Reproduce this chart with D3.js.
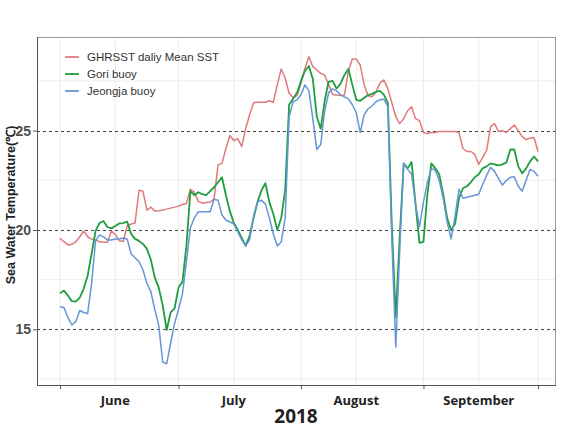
<!DOCTYPE html>
<html><head><meta charset="utf-8">
<script src="https://cdn.jsdelivr.net/npm/d3@7"></script>
<style>body{margin:0;background:#fff}svg{display:block}</style>
</head><body>
<script>
// ---- data ----
const startDate = "2018-06-01";
const endDate = "2018-09-30";
const seriesNames = ["GHRSST daliy Mean SST", "Gori buoy", "Jeongja buoy"];
const ghrsst = [
19.58,19.41,19.25,19.28,19.41,19.66,19.95,19.66,19.54,19.5,
19.41,19.38,19.38,19.95,19.78,19.46,19.42,20.2,20.3,20.35,
22.0,21.95,21.0,21.15,20.95,20.97,21.0,21.05,21.1,21.15,
21.2,21.28,21.33,22.05,21.9,21.45,21.35,21.38,21.4,21.55,
23.27,23.35,24.1,24.75,24.5,24.6,24.2,25.1,25.8,26.4,
26.43,26.43,26.43,26.5,26.43,27.3,28.1,27.65,26.88,26.66,
26.76,27.38,28.14,28.72,28.22,28.05,27.88,27.8,27.3,26.82,
26.79,26.76,26.79,28.0,28.6,28.6,28.3,27.3,26.75,26.7,
26.95,27.4,27.55,27.1,26.4,25.7,25.35,25.6,26.0,26.2,
25.6,25.5,24.9,24.85,24.9,24.9,24.95,24.95,24.95,24.95,
24.95,24.9,24.1,23.95,23.95,23.8,23.3,23.65,24.0,25.2,
25.35,24.95,25.0,24.9,25.1,25.28,25.0,24.7,24.55,24.62,
24.65,23.95];
const gori = [
16.81,16.95,16.7,16.42,16.4,16.6,17.05,17.7,18.8,19.95,
20.35,20.45,20.15,20.08,20.2,20.33,20.35,20.42,19.8,19.55,
19.45,19.3,19.05,18.5,17.6,17.1,16.2,14.97,15.85,16.05,
17.1,17.4,19.2,21.95,21.75,21.9,21.8,21.75,21.95,22.15,
22.4,22.65,21.75,20.95,20.35,20.0,19.6,19.2,19.7,20.6,
21.4,22.0,22.35,21.4,20.8,20.0,20.6,22.0,26.3,26.6,
26.9,27.5,28.0,28.25,27.6,25.7,25.1,26.5,27.45,27.5,
27.12,27.35,27.8,28.1,27.3,26.55,26.5,26.65,26.79,26.85,
26.95,27.0,26.8,26.4,20.2,15.6,19.7,23.35,23.1,23.42,
21.3,19.35,19.4,21.8,23.35,23.1,22.8,21.8,20.6,20.0,
20.3,21.6,22.1,22.2,22.4,22.65,22.8,23.1,23.2,23.35,
23.3,23.25,23.3,23.4,24.05,24.05,23.2,22.85,23.1,23.45,
23.7,23.45];
const jeongja = [
16.14,16.1,15.6,15.22,15.4,15.95,15.85,15.8,17.3,19.45,
19.75,19.65,19.5,19.5,19.55,19.55,19.6,19.55,18.8,18.6,
18.4,18.0,17.3,16.9,16.0,15.2,13.35,13.27,14.3,15.3,
16.0,16.8,18.4,20.1,20.6,20.92,20.92,20.92,20.92,21.55,
21.5,20.75,20.5,20.4,20.3,19.9,19.5,19.2,19.5,20.7,
21.4,21.5,21.3,20.6,19.8,19.2,19.4,20.6,25.7,26.45,
26.55,26.8,27.3,27.0,25.6,24.05,24.3,26.0,26.9,27.1,
27.0,26.8,26.7,26.6,26.3,25.9,24.9,25.8,26.1,26.25,
26.45,26.55,26.58,26.2,19.5,14.1,19.0,23.35,23.05,22.8,
21.3,20.15,21.4,22.4,23.1,23.0,22.5,21.6,20.4,19.55,
20.7,22.05,21.6,21.65,21.7,21.75,21.8,22.3,22.75,23.15,
22.95,22.6,22.26,22.5,22.65,22.68,22.2,21.95,22.5,23.05,
22.95,22.7];
const yTicks = [15, 20, 25];
const yMinor = [12.5, 17.5, 22.5, 27.5];
const monthLabels = ["June", "July", "August", "September"];
const xTitle = "2018";
const yTitle = "Sea Water Temperature(\u2103)";
const colors = ["#E07A7C", "#1E9E3E", "#6596D8"];

// ---- layout ----
const W = 569, H = 429;
const panel = {l: 37, r: 555, t: 37, b: 385};
const parse = d3.timeParse("%Y-%m-%d");
const t0 = parse(startDate), t1 = parse(endDate);
const dates = d3.timeDay.range(t0, d3.timeDay.offset(t1, 1));

const x = d3.scaleTime().domain([t0, t1]).range([60, 538]);
const y = d3.scaleLinear().domain([12.2, 29.71]).range([panel.b, panel.t]);

const svg = d3.select("body").append("svg").attr("width", W).attr("height", H);
svg.append("rect").attr("width", W).attr("height", H).attr("fill", "#fff");

const monthStarts = d3.timeMonth.range(t0, d3.timeDay.offset(t1, 1));
const midMonths = monthStarts.map(m => d3.timeDay.offset(m, 14));
const vGrid = monthStarts.concat(midMonths).concat([t1]);

const g = svg.append("g");
// minor grid
g.selectAll(".vg").data(vGrid).join("line")
  .attr("x1", d => x(d)).attr("x2", d => x(d))
  .attr("y1", panel.t).attr("y2", panel.b)
  .attr("stroke", "#ececec").attr("stroke-width", 1);
g.selectAll(".hm").data(yMinor).join("line")
  .attr("x1", panel.l).attr("x2", panel.r)
  .attr("y1", d => y(d)).attr("y2", d => y(d))
  .attr("stroke", "#ececec").attr("stroke-width", 1);
// major dashed
g.selectAll(".hM").data(yTicks).join("line")
  .attr("x1", panel.l).attr("x2", panel.r)
  .attr("y1", d => Math.round(y(d)) + 0.5).attr("y2", d => Math.round(y(d)) + 0.5)
  .attr("stroke", "#444").attr("stroke-width", 1).attr("stroke-dasharray", "3,3");

// lines
const line = d3.line().x((d, i) => x(dates[i])).y(d => y(d));
[ghrsst, gori, jeongja].forEach((s, k) => {
  svg.append("path").datum(s).attr("d", line)
    .attr("fill", "none").attr("stroke", colors[k])
    .attr("stroke-width", k === 1 ? 1.8 : 1.5).attr("stroke-linejoin", "round");
});

// panel border
svg.append("rect").attr("x", panel.l + 0.5).attr("y", panel.t + 0.5)
  .attr("width", panel.r - panel.l).attr("height", panel.b - panel.t)
  .attr("fill", "none").attr("stroke", "#9a9a9a").attr("stroke-width", 1);
svg.append("line").attr("x1", panel.l + 0.5).attr("x2", panel.l + 0.5)
  .attr("y1", panel.t).attr("y2", panel.b + 0.5).attr("stroke", "#555");
svg.append("line").attr("x1", panel.l).attr("x2", panel.r + 1)
  .attr("y1", panel.b + 0.5).attr("y2", panel.b + 0.5).attr("stroke", "#555");

// y axis
const yAxis = d3.axisLeft(y).tickValues(yTicks).tickSize(4).tickPadding(2);
const ya = svg.append("g").attr("transform", `translate(${panel.l},0)`).call(yAxis);
ya.select(".domain").remove();
ya.selectAll(".tick line").attr("stroke", "#555");
ya.selectAll(".tick text").attr("fill", "#4d4d4d").attr("font-size", 14)
  .attr("font-weight", "bold").attr("font-family", "Liberation Sans, Arial, sans-serif");

// x axis ticks (month boundaries) and labels (mid month)
const xAxis = d3.axisBottom(x).tickValues(monthStarts.concat([t1])).tickSize(4).tickFormat("");
const xa = svg.append("g").attr("transform", `translate(0,${panel.b})`).call(xAxis);
xa.select(".domain").remove();
xa.selectAll(".tick line").attr("stroke", "#555");
svg.selectAll(".mlab").data(midMonths).join("text")
  .attr("x", d => x(d)).attr("y", 405)
  .attr("text-anchor", "middle").attr("fill", "#222")
  .attr("font-family", "Open Sans, sans-serif").attr("font-weight", "bold").attr("font-size", 13)
  .text((d, i) => monthLabels[i]);

svg.append("text").attr("x", 296).attr("y", 423).attr("text-anchor", "middle")
  .attr("fill", "#222").attr("font-family", "Open Sans, sans-serif")
  .attr("font-weight", "bold").attr("font-size", 19).text(xTitle);

svg.append("text").attr("transform", "translate(15,205) rotate(-90)")
  .attr("text-anchor", "middle").attr("fill", "#222")
  .attr("font-family", "Liberation Sans, Arial, sans-serif")
  .attr("font-weight", "bold").attr("font-size", 12.5).text(yTitle);

// legend
const lg = svg.append("g");
seriesNames.forEach((n, i) => {
  const yy = 57 + i * 17;
  lg.append("line").attr("x1", 65).attr("x2", 79).attr("y1", yy).attr("y2", yy)
    .attr("stroke", colors[i]).attr("stroke-width", 1.8);
  lg.append("text").attr("x", 87).attr("y", yy + 4).attr("fill", "#333")
    .attr("font-family", "Liberation Sans, Arial, sans-serif").attr("font-size", 11.5).text(n);
});
</script>
</body></html>
